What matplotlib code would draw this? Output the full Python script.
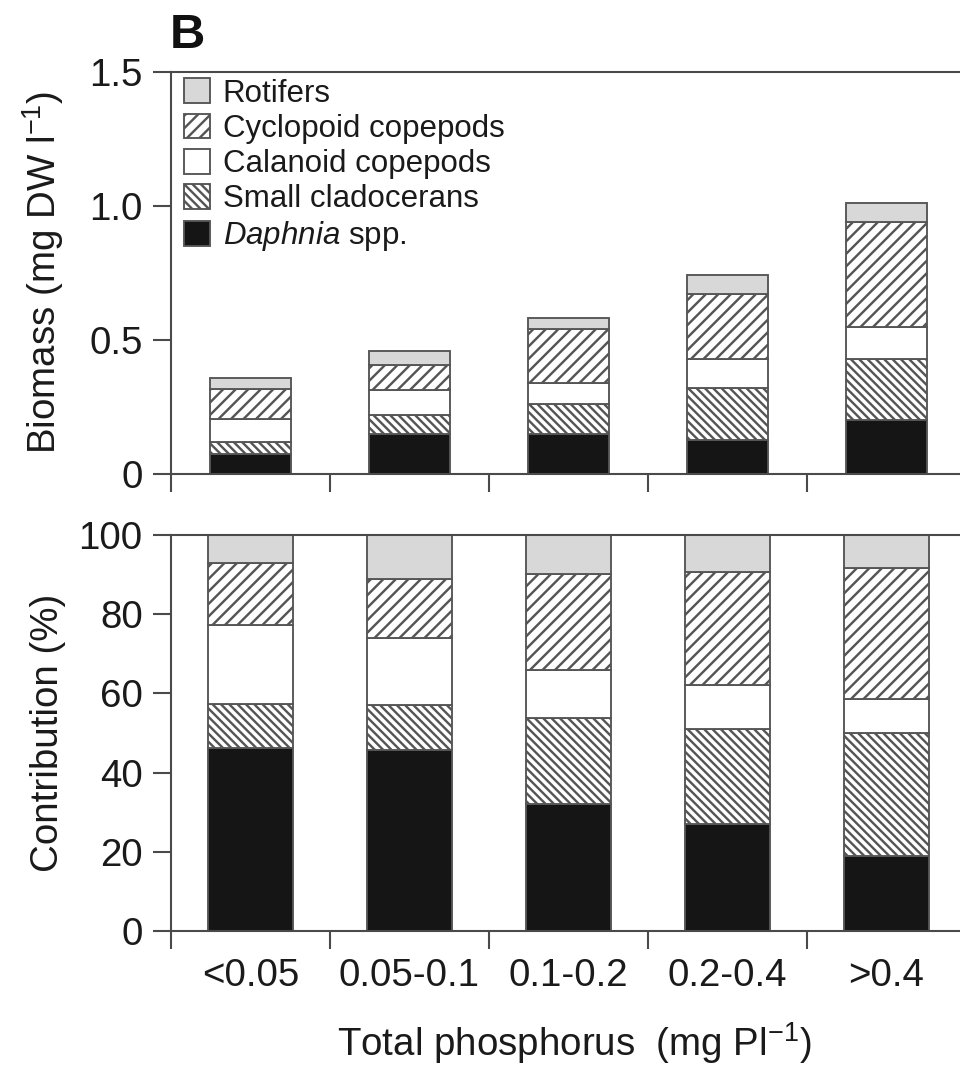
import numpy as np
import matplotlib
matplotlib.use("Agg")
import matplotlib.pyplot as plt
from matplotlib.patches import Patch

plt.rcParams['font.family'] = ['Liberation Sans', 'DejaVu Sans']
plt.rcParams['mathtext.fontset'] = 'custom'
plt.rcParams['mathtext.rm'] = 'Liberation Sans'
plt.rcParams['mathtext.it'] = 'Liberation Sans:italic'
plt.rcParams['mathtext.bf'] = 'Liberation Sans:bold'
plt.rcParams['hatch.linewidth'] = 1.15
plt.rcParams['hatch.color'] = '#262626'

# ---- data ----
categories = ['<0.05', '0.05-0.1', '0.1-0.2', '0.2-0.4', '>0.4']
groups = ['Daphnia spp.', 'Small cladocerans', 'Calanoid copepods',
          'Cyclopoid copepods', 'Rotifers']

# biomass (mg DW l-1), per category
biomass_daphnia = [0.073, 0.147, 0.148, 0.125, 0.201]
biomass_smallclad = [0.046, 0.070, 0.112, 0.193, 0.227]
biomass_calanoid = [0.086, 0.094, 0.077, 0.108, 0.119]
biomass_cyclopoid = [0.109, 0.095, 0.201, 0.244, 0.393]
biomass_rotifers = [0.042, 0.051, 0.043, 0.071, 0.069]

# contribution (%)
pct_daphnia = [46.1, 45.7, 32.0, 27.0, 19.0]
pct_smallclad = [11.2, 11.3, 21.7, 24.1, 31.0]
pct_calanoid = [20.0, 16.9, 12.2, 11.0, 8.6]
pct_cyclopoid = [15.7, 14.9, 24.2, 28.5, 33.0]
pct_rotifers = [7.0, 11.2, 9.9, 9.4, 8.4]

biomass_ticks = [0, 0.5, 1.0, 1.5]
biomass_ticklabels = ['0', '0.5', '1.0', '1.5']
pct_ticks = [0, 20, 40, 60, 80, 100]

# ---- styles ----
styles = [
    dict(facecolor='#151515', hatch=None),
    dict(facecolor='white', hatch='\\\\\\\\\\\\'),
    dict(facecolor='white', hatch=None),
    dict(facecolor='white', hatch='////'),
    dict(facecolor='#d8d8d8', hatch=None),
]
edge = '#555555'
spine_c = '#4a4a4a'
txt_c = '#1a1a1a'
fs_tick = 18.5
fs_leg = 15

fig = plt.figure(figsize=(6.4, 7.1), dpi=150)
W, H = 960.0, 1065.0
left_px, right_px = 171.0, 966.0
ax1 = fig.add_axes([left_px / W, 1 - 473.5 / H, (right_px - left_px) / W, (473.5 - 72) / H])
ax2 = fig.add_axes([left_px / W, 1 - 931 / H, (right_px - left_px) / W, (931 - 535) / H])

x = np.arange(len(categories))


def stack(ax, series, width):
    bottom = np.zeros(len(categories))
    for vals, st, name in zip(series, styles, groups):
        vals = np.asarray(vals)
        ax.bar(x, vals, width=width, bottom=bottom, facecolor=st['facecolor'],
               hatch=st['hatch'], edgecolor=edge, linewidth=0.9, label=name, zorder=2)
        bottom = bottom + vals


stack(ax1, [biomass_daphnia, biomass_smallclad, biomass_calanoid,
            biomass_cyclopoid, biomass_rotifers], 0.505)
stack(ax2, [pct_daphnia, pct_smallclad, pct_calanoid,
            pct_cyclopoid, pct_rotifers], 0.53)

boundaries = np.arange(len(categories) + 1) - 0.5
for ax in (ax1, ax2):
    ax.set_xlim(-0.5, len(categories) - 0.5)
    for s in ['left', 'top', 'bottom']:
        ax.spines[s].set_color(spine_c)
        ax.spines[s].set_linewidth(1.0)
    ax.spines['right'].set_visible(False)
    ax.set_xticks(boundaries)
    ax.set_xticklabels([''] * len(boundaries))
    ax.tick_params(axis='x', which='major', direction='out', length=8.6, width=1.0,
                   color=spine_c)
    ax.tick_params(axis='y', which='major', direction='out', length=8.6, width=1.0,
                   color=spine_c, labelsize=fs_tick, labelcolor=txt_c, pad=5)

ax1.set_ylim(0, 1.5)
ax1.set_yticks(biomass_ticks)
ax1.set_yticklabels(biomass_ticklabels)
ax2.set_ylim(0, 100)
ax2.set_yticks(pct_ticks)

ax2.set_xticks(x, minor=True)
ax2.set_xticklabels(categories, minor=True)
ax2.tick_params(axis='x', which='minor', length=0, labelsize=fs_tick,
                labelcolor=txt_c, pad=13)

ax1.set_ylabel(r'Biomass (mg DW l$^{-1}$)', fontsize=fs_tick, color=txt_c)
ax2.set_ylabel('Contribution (%)', fontsize=fs_tick, color=txt_c)
ax1.yaxis.set_label_coords(-0.132, 0.5)
ax2.yaxis.set_label_coords(-0.132, 0.5)
ax2.set_xlabel(r'Total phosphorus  (mg Pl$^{-1}$)', fontsize=fs_tick, color=txt_c)
ax2.xaxis.set_label_coords(0.507, -0.225)

# legend (reverse order: Rotifers first)
handles = []
leg_labels = ['Rotifers', 'Cyclopoid copepods', 'Calanoid copepods',
              'Small cladocerans', r'$\it{Daphnia}$ spp.']
for st in reversed(styles):
    handles.append(Patch(facecolor=st['facecolor'], hatch=st['hatch'],
                         edgecolor=edge, linewidth=0.9))
leg = ax1.legend(handles, leg_labels, loc='upper left', bbox_to_anchor=(0.008, 1.0),
                 frameon=False, fontsize=fs_leg, handlelength=0.85, handleheight=0.85,
                 handletextpad=0.4, labelspacing=0.16, borderpad=0.2,
                 borderaxespad=0.0)
for t in leg.get_texts():
    t.set_color(txt_c)

fig.text(170 / W, 1 - 48 / H, 'B', fontsize=23.5, fontweight='bold',
         ha='left', va='baseline', color='#111111')

fig.savefig('out.png', dpi=150)
